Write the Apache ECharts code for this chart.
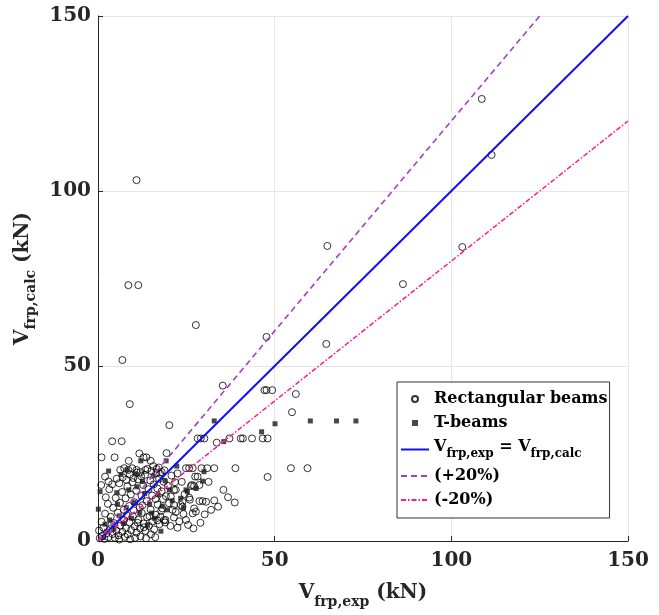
<!DOCTYPE html>
<html>
<head>
<meta charset="utf-8">
<title>Vfrp scatter</title>
<script src="https://cdn.jsdelivr.net/npm/echarts@6/dist/echarts.min.js"></script>
<style>
  html, body { margin: 0; padding: 0; background: #fff; }
  #chart { width: 659px; height: 615px; }
</style>
</head>
<body>
<div id="chart"></div>
<script>
// axis ticks (kN)
const ticks = [0, 50, 100, 150];

// Rectangular beams: [V_frp,exp, V_frp,calc]
const rectBeams = [
  [10.9, 103.1], [8.6, 73.1], [11.4, 73.1], [6.9, 51.7], [9.0, 39.1], [27.7, 61.7],
  [64.9, 84.3], [108.6, 126.3], [111.4, 110.3], [103.1, 84.0], [86.3, 73.4],
  [64.6, 56.3], [47.7, 58.3], [35.3, 44.4], [47.1, 43.1], [47.7, 43.1], [49.3, 43.1],
  [56.0, 42.0], [54.9, 36.8],
  [28.2, 29.3], [29.1, 29.3], [30.1, 29.3], [37.2, 29.3], [40.4, 29.3], [41.0, 29.3],
  [43.6, 29.3], [46.6, 29.3], [48.0, 29.3], [33.6, 28.1],
  [24.9, 20.8], [25.8, 20.8], [26.8, 20.8], [29.3, 20.8], [30.9, 20.8], [32.9, 20.8],
  [38.9, 20.8], [54.6, 20.8], [59.3, 20.8],
  [20.2, 33.1], [4.0, 28.5], [6.7, 28.5], [1.0, 23.9], [4.7, 23.9], [8.7, 22.9],
  [11.7, 25.0], [12.9, 23.9], [13.7, 23.9], [14.9, 22.9], [19.4, 25.1], [17.2, 21.0],
  [48.0, 18.3], [22.5, 19.3], [23.7, 16.9], [27.5, 18.4], [28.2, 18.4], [31.3, 16.9],
  [26.6, 16.0], [28.7, 16.0], [21.5, 14.6], [35.5, 14.6], [36.8, 12.5], [38.7, 11.0],
  [28.7, 11.4], [29.6, 11.4], [30.6, 11.2], [32.9, 11.6], [27.2, 9.3], [27.7, 8.4],
  [26.8, 7.9], [24.9, 6.0], [23.9, 11.2], [23.4, 10.3], [20.6, 12.7], [20.1, 10.8],
  [21.5, 10.3], [21.1, 8.9], [19.1, 6.0], [17.7, 6.9], [18.7, 6.0], [23.9, 9.8],
  [26.3, 15.7], [27.2, 15.7], [22.0, 14.6],
  [6.3, 20.3], [7.4, 20.8], [8.6, 20.3], [9.7, 20.8], [10.9, 20.3], [12.0, 19.7],
  [13.4, 20.3], [15.1, 20.0], [16.5, 19.4], [18.0, 19.7], [2.0, 18.4], [3.0, 17.0],
  [0.9, 16.0],
  [0.5, 0.8], [1.2, 1.5], [1.8, 0.6], [2.4, 2.2], [3.0, 1.1], [3.5, 3.4], [4.1, 2.0],
  [4.6, 5.1], [5.2, 3.0], [5.8, 1.6], [6.3, 4.4], [6.9, 2.6], [7.4, 6.0], [7.9, 3.7],
  [8.4, 1.9], [8.9, 5.3], [9.4, 3.1], [9.9, 7.0], [10.4, 4.2], [10.9, 2.4], [11.4, 6.1],
  [11.9, 3.6], [12.4, 8.0], [12.9, 5.0], [13.4, 2.9], [13.9, 6.8], [14.4, 4.3],
  [14.9, 9.0], [15.4, 5.6], [15.9, 3.3], [16.4, 7.5], [16.9, 10.4], [17.4, 4.8],
  [17.9, 8.6], [18.4, 12.0], [19.0, 5.3],
  [1.0, 5.5], [2.0, 7.8], [2.8, 10.6], [3.6, 6.9], [4.3, 9.5], [5.0, 12.3], [5.6, 8.1],
  [6.2, 10.9], [6.8, 14.0], [7.3, 8.9], [7.8, 12.2], [8.3, 15.6], [8.8, 10.0],
  [9.3, 13.3], [9.8, 16.8], [10.3, 11.1], [10.8, 14.4], [11.3, 17.6], [11.8, 9.6],
  [12.3, 12.9], [12.8, 16.0], [13.3, 18.9], [13.8, 11.4], [14.3, 14.8], [14.8, 17.3],
  [15.3, 13.0], [15.8, 16.2], [16.3, 12.0], [16.8, 15.0], [17.3, 17.8], [18.0, 14.2],
  [18.6, 16.9], [19.2, 12.8], [19.8, 15.8],
  [0.3, 3.0], [1.5, 3.8], [2.2, 12.5], [3.2, 14.8], [4.0, 16.2], [5.3, 17.8],
  [6.0, 16.5], [7.0, 18.2], [8.0, 17.5], [9.0, 19.0], [10.0, 18.0], [11.0, 19.6],
  [12.2, 18.5], [14.0, 20.6], [15.6, 21.4], [16.6, 20.6], [17.6, 19.2], [18.8, 20.2],
  [20.5, 4.3], [21.5, 6.7], [22.5, 3.8], [22.0, 8.3], [23.0, 5.6], [24.2, 7.7],
  [25.5, 4.6], [26.0, 11.8], [21.8, 16.8], [20.8, 18.7], [24.5, 13.4], [25.8, 12.4],
  [30.2, 7.6], [32.0, 8.9], [34.0, 9.8], [29.0, 5.2], [27.0, 3.6],
  [10.5, 0.9], [12.0, 1.3], [13.6, 0.8], [15.0, 1.9], [16.2, 1.1], [9.1, 0.5],
  [7.6, 1.2], [6.0, 0.4], [4.8, 0.9], [3.8, 4.6], [11.2, 5.2], [13.0, 3.9],
  [14.6, 7.1], [12.6, 10.2], [10.1, 8.8], [8.1, 7.4], [16.8, 5.9], [18.2, 9.3]
];

// T-beams: [V_frp,exp, V_frp,calc]
const tBeams = [
  [0.1, 9.1], [0.6, 14.1], [5.3, 13.8], [8.7, 14.6], [12.1, 22.9], [19.3, 22.9],
  [22.3, 21.4], [32.9, 34.3], [35.6, 28.4], [46.3, 31.2], [50.1, 33.5], [60.1, 34.3],
  [67.5, 34.3], [73.0, 34.3], [29.6, 17.1], [25.3, 14.1], [23.4, 12.2], [19.6, 8.9],
  [24.2, 9.4], [24.9, 14.6],
  [1.5, 1.0], [2.5, 2.8], [3.3, 6.0], [4.5, 3.5], [6.0, 7.2], [7.2, 5.0], [8.0, 9.5],
  [9.5, 6.5], [10.2, 11.0], [11.0, 15.5], [11.8, 8.0], [12.6, 17.0], [13.2, 13.6],
  [14.0, 4.5], [14.6, 10.5], [15.6, 18.6], [16.0, 6.5], [17.0, 13.2], [17.8, 2.8],
  [18.2, 10.0], [19.0, 17.2], [20.2, 14.6], [21.0, 11.5], [6.5, 19.0], [8.2, 20.3],
  [10.6, 19.2], [3.0, 20.0], [27.8, 15.0], [30.0, 19.8], [15.2, 8.0], [5.5, 10.5],
  [2.0, 4.8]
];

// reference lines
const equalLine = [[0, 0], [150, 150]];
const plus20Line = [[0, 0], [125, 150]];
const minus20Line = [[0, 0], [150, 120]];

const serif = "'DejaVu Serif', serif";

let myChart = echarts.init(document.getElementById("chart"));

const axisCommon = {
  type: "value",
  min: ticks[0],
  max: ticks[ticks.length - 1],
  interval: 50,
  axisLine: { show: true, lineStyle: { color: "#262626", width: 1 } },
  axisTick: { show: true, inside: true, length: 5, lineStyle: { color: "#262626" } },
  axisLabel: {
    color: "#262626", fontFamily: serif, fontWeight: "bold", fontSize: 20,
    showMinLabel: true, showMaxLabel: true, hideOverlap: false,
  },
  splitLine: { show: true, lineStyle: { color: "#e6e6e6", width: 1 } },
  nameLocation: "middle",
};

const nameRich = {
  m: { fontFamily: serif, fontWeight: "bold", fontSize: 20, color: "#262626", lineHeight: 26, verticalAlign: "top" },
  s: { fontFamily: serif, fontWeight: "bold", fontSize: 14, color: "#262626", lineHeight: 26, verticalAlign: "bottom" },
};

// no marker inside line legend icons
const noMarker = { color: "rgba(0,0,0,0)", borderWidth: 0 };

myChart.setOption({
  animation: false,
  backgroundColor: "#fff",
  grid: { left: 98, right: 31, top: 16, bottom: 74 },
  xAxis: Object.assign({}, axisCommon, {
    axisLabel: Object.assign({}, axisCommon.axisLabel, { margin: 10 }),
    name: "{m|V}{s|frp,exp}{m| (kN)}",
    nameGap: 42,
    nameTextStyle: { rich: nameRich },
  }),
  yAxis: Object.assign({}, axisCommon, {
    axisLabel: Object.assign({}, axisCommon.axisLabel, { margin: 7 }),
    name: "{m|V}{s|frp,calc}{m| (kN)}",
    nameGap: 50,
    nameTextStyle: { rich: nameRich },
  }),
  legend: {
    orient: "vertical",
    left: 397,
    top: 382,
    backgroundColor: "#fff",
    borderColor: "#333",
    borderWidth: 1,
    padding: [9, 2, 10, 3],
    itemGap: 8,
    itemWidth: 28,
    itemHeight: 6,
    textStyle: {
      fontFamily: serif,
      fontWeight: "bold",
      fontSize: 16,
      color: "#000",
      rich: {
        m: { fontFamily: serif, fontWeight: "bold", fontSize: 16, color: "#000", lineHeight: 21, verticalAlign: "top" },
        s: { fontFamily: serif, fontWeight: "bold", fontSize: 12, color: "#000", lineHeight: 21, verticalAlign: "bottom" },
      },
    },
    data: [
      { name: "Rectangular beams", icon: "circle" },
      { name: "T-beams", icon: "path://M0,0h10v10h-10z" },
      { name: "equal", itemStyle: noMarker },
      { name: "(+20%)", itemStyle: noMarker },
      { name: "(-20%)", itemStyle: noMarker },
    ],
    formatter: function (name) {
      if (name === "equal") return "{m|V}{s|frp,exp}{m| = V}{s|frp,calc}";
      return name;
    },
  },
  series: [
    {
      name: "Rectangular beams",
      type: "scatter",
      data: rectBeams,
      symbol: "circle",
      symbolSize: 7,
      itemStyle: { color: "rgba(0,0,0,0)", borderColor: "#000", borderWidth: 1 },
      z: 2,
    },
    {
      name: "T-beams",
      type: "scatter",
      data: tBeams,
      symbol: "rect",
      symbolSize: 5,
      itemStyle: { color: "#1a1a1a" },
      z: 2,
    },
    {
      name: "equal",
      type: "line",
      data: equalLine,
      symbol: "none",
      lineStyle: { color: "#1010f0", width: 2 },
      itemStyle: { color: "#1010f0" },
      z: 4,
    },
    {
      name: "(+20%)",
      type: "line",
      data: plus20Line,
      symbol: "none",
      lineStyle: { color: "#a83cc8", width: 1.6, type: [6, 4] },
      itemStyle: { color: "#a83cc8" },
      z: 4,
    },
    {
      name: "(-20%)",
      type: "line",
      data: minus20Line,
      symbol: "none",
      lineStyle: { color: "#ff1a8c", width: 1.5, type: [5, 2, 1.5, 2] },
      itemStyle: { color: "#ff1a8c" },
      z: 4,
    },
  ],
});
</script>
</body>
</html>
